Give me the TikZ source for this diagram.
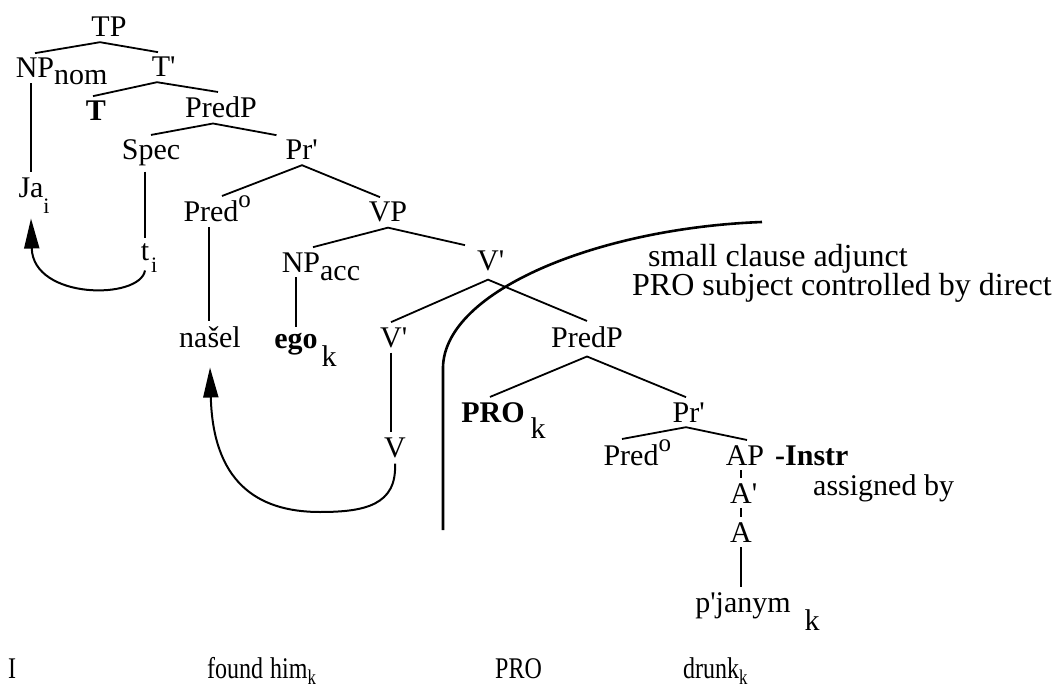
\documentclass[tikz,border=0pt]{standalone}
\usepackage{fontspec}
\setmainfont{Liberation Serif}[Ligatures=TeXOff]
\newfontfamily\narrowfont{Liberation Serif}[FakeStretch=0.8,Ligatures=TeXOff]
\usetikzlibrary{arrows.meta}
\newcommand\mysub[2][8pt]{\rlap{\smash{\raisebox{-#1}{#2}}}}
\newcommand\mysup[1]{\rlap{\smash{\raisebox{14pt}{\fontsize{25}{25}\selectfont #1}}}}
\newcommand\pr{\rlap{'}}
\begin{document}
\begin{tikzpicture}[x=1pt,y=-1pt,
  lab/.style={font=\fontsize{30}{36}\selectfont, inner xsep=2pt, inner ysep=5pt, anchor=base},
  note/.style={font=\fontsize{32}{36}\selectfont, inner sep=0pt, anchor=base west},
  bot/.style={font=\narrowfont\fontsize{30}{36}\selectfont, inner sep=0pt, anchor=base west},
  branch/.style={line width=1.8pt, line join=miter},
  mv/.style={line width=2pt, -{Triangle[length=30pt,width=15pt]}},
  ]
\useasboundingbox (0,0) rectangle (1061,690);

% nodes
\node[lab] (TP) at (109,37) {TP};
\node[lab] (NPnom) at (35,78) {NP\mysub[7pt]{nom}};
\node[lab] (Tbar) at (161,77) {T\pr};
\node[lab] (T) at (96,121) {\textbf{T}};
\node[lab] (PredPa) at (221,118) {PredP};
\node[lab] (Spec) at (151,160) {Spec};
\node[lab] (Pra) at (299,160) {Pr\pr};
\node[lab] (Ja) at (31,197) {Ja\mysub[17pt]{\fontsize{22}{22}\selectfont i}};
\node[lab] (t) at (145,260) {t\mysub[12pt]{\fontsize{22}{22}\selectfont \hspace{2pt}i}};
\node[lab] (Preda) at (211,222) {Pred\mysup{o}};
\node[lab] (VP) at (388,222) {VP};
\node[lab] (NPacc) at (301,272) {NP\mysub[8pt]{acc}};
\node[lab] (Vbara) at (488,270) {V\pr};
\node[lab] (nasel) at (210,347) {našel};
\node[lab] (ego) at (296,348) {\textbf{ego}\mysub[18pt]{\hspace{4pt}k}};
\node[lab] (Vbarb) at (391,347) {V\pr};
\node[lab] (V) at (395,457) {V};
\node[lab] (PredPb) at (587,347) {PredP};
\node[lab] (PRO) at (493,422) {\textbf{PRO}\mysub[16pt]{\hspace{6pt}k}};
\node[lab] (Prb) at (686,422) {Pr\pr};
\node[lab] (Predb) at (631,465) {Pred\mysup{o}};
\node[lab] (AP) at (745,465) {AP};
\node[lab, anchor=base west, inner sep=0pt] (instr) at (775,465) {\textbf{-Instr}};
\node[lab] (Abar) at (741,503) {A\pr};
\node[lab] (A) at (741,542) {A};
\node[lab] (pjanym) at (743,612) {p'janym\mysub[18pt]{\hspace{14pt}k}};

\node[note] (sca) at (648,266) {small clause adjunct};
\node[note] (psc) at (632,295) {PRO subject controlled by direct};
\node[lab, anchor=base west, inner sep=0pt] (asg) at (813,495) {assigned by};

\node[bot] (gI) at (8,678) {I};
\node[bot] (gfound) at (207,678) {found};
\node[bot] (ghim) at (270,678) {him\textsubscript{k}};
\node[bot] (gpro) at (495,678) {PRO};
\node[bot] (gdrunk) at (683,678) {drunk\textsubscript{k}};

% branches
\draw[branch] (NPnom.north) -- ([xshift=-9pt]TP.south) -- ([xshift=-3pt]Tbar.north);
\draw[branch] ([xshift=-3pt]T.north) -- ([xshift=-4pt]Tbar.south) -- ([xshift=-3pt]PredPa.north);
\draw[branch] (Spec.north) -- ([xshift=-8pt]PredPa.south) -- ([xshift=-7pt]Pra.north west);
\draw[branch] ([xshift=11pt]Preda.north) -- ([xshift=3pt]Pra.south) -- ([xshift=-8pt]VP.north);
\draw[branch] ([xshift=12pt]NPacc.north) -- (VP.south) -- ([xshift=-23pt]Vbara.north);
\draw[branch] (Vbarb.north) -- ([yshift=-4pt]Vbara.south) -- (PredPb.north);
\draw[branch] ([xshift=-3pt]PRO.north) -- ([yshift=-4pt]PredPb.south) -- (Prb.north);
\draw[branch] ([xshift=-9pt]Predb.north) -- (Prb.south) -- ([xshift=2pt]AP.north);

\draw[branch] (NPnom.south -| Ja.north) -- (Ja.north);
\draw[branch] (Spec.south -| t.north) -- (t.north);
\draw[branch] ([xshift=-2pt]Preda.south) -- ([xshift=-1pt]nasel.north);
\draw[branch] (NPacc.south -| ego.north) -- (ego.north);
\draw[branch] (Vbarb.south) -- (Vbarb.south |- V.north);
\draw[branch] (AP.south -| Abar.north) -- (Abar.north);
\draw[branch] (Abar.south) -- (A.north);
\draw[branch] (A.south) -- (A.south |- pjanym.north);

% movement arrows
\draw[mv] ([yshift=-5pt]t.south) .. controls (140,300) and (33,300) .. ([yshift=-16pt]Ja.south);
\draw[mv] ([yshift=-1pt]V.south) .. controls (397,505) and (365,512) .. (320,512)
  .. controls (255,512) and (213,480) .. ([yshift=-15pt]nasel.south);

% small clause boundary
\draw[line width=2.6pt] (762,222) .. controls (600,228) and (445,290) .. (443,367) -- (443,530);
\end{tikzpicture}
\end{document}
